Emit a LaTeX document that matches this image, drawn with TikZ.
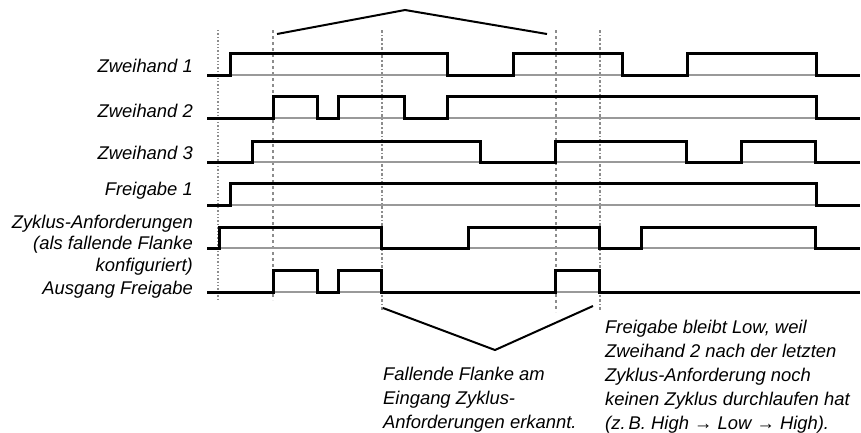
\documentclass[tikz,border=0pt]{standalone}
\usepackage{fontspec}
\setmainfont{Liberation Sans}
\usetikzlibrary{positioning, calc}

\begin{document}
\begin{tikzpicture}[
            x=1pt, y=-1pt,
            sig/.style={line width=3pt, black, line join=miter},
            baseline gray/.style={line width=1.4pt, black!40},
            tline/.style={line width=1.4pt, black!45},
            brace line/.style={line width=2pt, black, line join=miter},
            lab/.style={anchor=base east, inner sep=0pt, align=right, font=\fontsize{18.4}{21.5}\selectfont\itshape},
            note/.style={anchor=base west, inner sep=0pt, align=left, font=\fontsize{18.4}{24}\selectfont\itshape}
        ]
            \useasboundingbox (0,0) rectangle (861,432);

            % --- Time Marks ---
            \coordinate (t1) at (218,30);
            \coordinate (t2) at (273,30);
            \coordinate (t3) at (382,30);
            \coordinate (t4) at (556,30);
            \coordinate (t5) at (600,30);
            \draw[tline, dotted] (t1) -- ++(0,270);
            \draw[tline, dashed] (t2) -- ++(0,270);
            \draw[tline, dash dot] (t3) -- ++(0,282);
            \draw[tline, dashed] (t4) -- ++(0,282);
            \draw[tline, dash dot] (t5) -- ++(0,282);

            % --- Low Levels ---
            \foreach \y in {75,118,162,205,248,292}
              \draw[baseline gray] (207,\y) -- (860,\y);

            % --- Labels ---
            \node[lab] (zh1) at (193,72) {Zweihand 1};
            \node[lab] (zh2) at (193,117) {Zweihand 2};
            \node[lab] (zh3) at (193,159) {Zweihand 3};
            \node[lab] (frg1) at (193,195) {Freigabe 1};
            \node[lab] (zyk) at (193,271) {Zyklus-Anforderungen\\(als fallende Flanke\\konfiguriert)};
            \node[lab] (ausg) at (193,294) {Ausgang Freigabe};

            % --- Signals ---
            \draw[sig] (207,75) -| (230,53) -| (447,75) -| (513,53) -| (622,75) -| (687,53) -| (816,75) -- (860,75);
            \draw[sig] (207,118) -| (273,96) -| (317,118) -| (338,96) -| (404,118) -| (447,96) -| (816,118) -- (860,118);
            \draw[sig] (207,162) -| (252,141) -| (480,162) -| (555,141) -| (686,162) -| (741,141) -| (815,162) -- (860,162);
            \draw[sig] (207,205) -| (230,183) -| (816,205) -- (860,205);
            \draw[sig] (207,248) -| (219,227) -| (381,248) -| (468,227) -| (599,248) -| (641,227) -| (815,248) -- (860,248);
            \draw[sig] (207,292) -| (273,270) -| (317,292) -| (338,270) -| (381,292) -| (555,270) -| (599,292) -- (860,292);

            % --- Brackets ---
            \coordinate (topL) at (277,34);
            \coordinate (topM) at (405,10);
            \coordinate (topR) at (547,34);
            \draw[brace line] (topL) -- (topM) -- (topR);

            \coordinate (botL) at (383,308);
            \coordinate (botM) at (495,350);
            \coordinate (botR) at (593,306);
            \draw[brace line] (botL) -- (botM) -- (botR);

            % --- Notes ---
            \node[note] (noteFlanke) at (383,428) {Fallende Flanke am\\Eingang Zyklus-\\Anforderungen erkannt.};
            \node[note] (noteLow) at (605,429) {Freigabe bleibt Low, weil\\Zweihand 2 nach der letzten\\Zyklus-Anforderung noch\\keinen Zyklus durchlaufen hat\\(z.\,B. High \textrightarrow{} Low \textrightarrow{} High).};

        \end{tikzpicture}
\end{document}
